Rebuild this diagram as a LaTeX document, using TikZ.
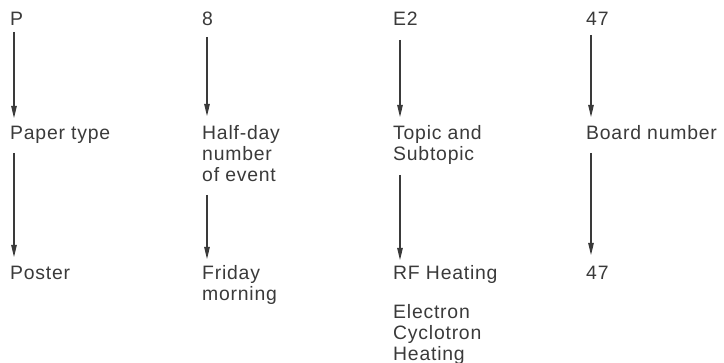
\documentclass[tikz,border=0pt]{standalone}
\usepackage{fontspec}
\setmainfont{Liberation Sans}[LetterSpace=4]
\usetikzlibrary{arrows.meta}
\definecolor{ink}{HTML}{3A3A3A}
\tikzset{
  lbl/.style={anchor=base west, inner sep=0pt, align=left, text=ink,
    font=\fontsize{19.4pt}{21pt}\selectfont},
  arr/.style={draw=ink, line width=1.2pt,
    -{Triangle[length=12pt,width=5.5pt]}}
}
\begin{document}
\begin{tikzpicture}[x=1pt,y=1pt]
\useasboundingbox (0,0) rectangle (724,-363);
% codes (base = baseline of the line)
\node[lbl] (c1) at (10,-26) {P};
\node[lbl] (c2) at (202,-26) {8};
\node[lbl] (c3) at (393,-26) {E2};
\node[lbl] (c4) at (586,-26) {47};
% meanings (multi-line nodes are placed by their last baseline)
\node[lbl] (m1) at (10,-140) {Paper type};
\node[lbl] (m2) at (202,-182) {Half-day\\number\\of event};
\node[lbl] (m3) at (393,-161) {Topic and\\Subtopic};
\node[lbl] (m4) at (586,-140) {Board number};
% values
\node[lbl] (v1) at (10,-280) {Poster};
\node[lbl] (v2) at (202,-301) {Friday\\morning};
\node[lbl] (v3) at (393,-280) {RF Heating};
\node[lbl] (v4) at (586,-280) {47};
\node[lbl] (v5) at (393,-361) {Electron\\Cyclotron\\Heating};
% code -> meaning
\draw[arr] ([xshift=4pt,yshift=-6pt]c1.base west) -- ([xshift=4pt,yshift=22pt]m1.base west);
\draw[arr] ([xshift=5pt,yshift=-11pt]c2.base west) -- ([xshift=5pt,yshift=66pt]m2.base west);
\draw[arr] ([xshift=7pt,yshift=-14pt]c3.base west) -- ([xshift=7pt,yshift=44pt]m3.base west);
\draw[arr] ([xshift=5pt,yshift=-9pt]c4.base west) -- ([xshift=5pt,yshift=23pt]m4.base west);
% meaning -> value
\draw[arr] ([xshift=4pt,yshift=-13pt]m1.base west) -- ([xshift=4pt,yshift=23pt]v1.base west);
\draw[arr] ([xshift=5pt,yshift=-13pt]m2.base west) -- ([xshift=5pt,yshift=42pt]v2.base west);
\draw[arr] ([xshift=7pt,yshift=-14pt]m3.base west) -- ([xshift=7pt,yshift=20pt]v3.base west);
\draw[arr] ([xshift=5pt,yshift=-13pt]m4.base west) -- ([xshift=5pt,yshift=25pt]v4.base west);
\end{tikzpicture}
\end{document}
